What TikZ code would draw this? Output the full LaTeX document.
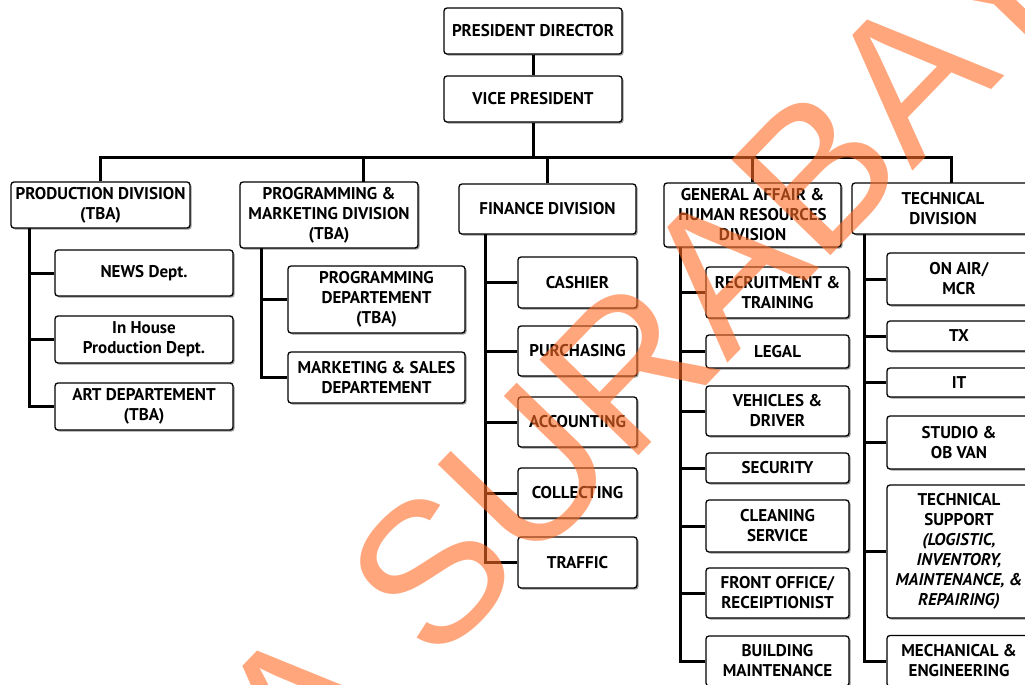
\documentclass[tikz,border=0pt]{standalone}
\usepackage{fontspec}
\setmainfont{PT Sans}
\newfontfamily\wmfont{Liberation Sans}
\usetikzlibrary{shadows}
\definecolor{wmorange}{RGB}{255,108,38}
\pgfdeclarelayer{linelayer}
\pgfdeclarelayer{wmlayer}
\pgfsetlayers{linelayer,main,wmlayer}
\begin{document}
\begin{tikzpicture}[x=1pt,y=-1pt,
  box/.style={draw=black, line width=1.3pt, rounded corners=3pt, fill=white,
    drop shadow={shadow xshift=1.6pt, shadow yshift=-1.6pt, opacity=0.4, fill=black},
    align=center, inner sep=0pt,
    font=\bfseries\fontsize{17}{20}\selectfont},
  conn/.style={draw=black, line width=3pt},
  wm/.style={text=wmorange, text opacity=0.6, inner sep=0pt,
    font=\wmfont\fontsize{200}{200}\selectfont}]
\useasboundingbox (0,0) rectangle (1025,685);

% helper coordinates
\coordinate (bar) at (533,157);
\coordinate (progin) at (363,182);
\coordinate (techin) at (951,183);
\coordinate (prodsp) at (29,228);
\coordinate (progsp) at (261,248);
\coordinate (finsp) at (485,234);
\coordinate (gasp) at (680,247);
\coordinate (techsp) at (864,234);

% nodes
\node[box, minimum width=178, minimum height=46] (pd) at (533,31) {PRESIDENT DIRECTOR};
\node[box, minimum width=178, minimum height=46] (vp) at (533,99) {VICE PRESIDENT};

\node[box, minimum width=179, minimum height=46] (prod) at (100.5,205) {PRODUCTION DIVISION\\(TBA)};
\node[box, minimum width=178, minimum height=66] (prog) at (329,215) {PROGRAMMING \&\\MARKETING DIVISION\\(TBA)};
\node[box, minimum width=177, minimum height=50] (fin) at (547.5,209) {FINANCE DIVISION};
\node[box, minimum width=177, minimum height=64] (ga) at (752.5,215) {GENERAL AFFAIR \&\\HUMAN RESOURCES\\DIVISION};
\node[box, minimum width=182, minimum height=51] (tech) at (943,208.5) {TECHNICAL\\DIVISION};

\node[box, minimum width=178, minimum height=46] (news) at (144,273) {NEWS Dept.};
\node[box, minimum width=178, minimum height=47] (inhouse) at (144,339.5) {In House\\Production Dept.};
\node[box, minimum width=178, minimum height=47] (art) at (144,406.5) {ART DEPARTEMENT\\(TBA)};

\node[box, minimum width=177, minimum height=67] (progdep) at (376.5,299.5) {PROGRAMMING\\DEPARTEMENT\\(TBA)};
\node[box, minimum width=177, minimum height=51] (mksales) at (376.5,377.5) {MARKETING \& SALES\\DEPARTEMENT};

\node[box, minimum width=119, minimum height=51] (cashier) at (577.5,282.5) {CASHIER};
\node[box, minimum width=119, minimum height=50] (purch) at (577.5,351) {PURCHASING};
\node[box, minimum width=119, minimum height=50] (acct) at (577.5,422) {ACCOUNTING};
\node[box, minimum width=119, minimum height=50] (coll) at (577.5,493) {COLLECTING};
\node[box, minimum width=119, minimum height=51] (traffic) at (577.5,562.5) {TRAFFIC};

\node[box, minimum width=143, minimum height=51] (recruit) at (777.5,292.5) {RECRUITMENT \&\\TRAINING};
\node[box, minimum width=143, minimum height=33] (legal) at (777.5,351.5) {LEGAL};
\node[box, minimum width=143, minimum height=50] (vehic) at (777.5,411) {VEHICLES \&\\DRIVER};
\node[box, minimum width=143, minimum height=30] (secur) at (777.5,468) {SECURITY};
\node[box, minimum width=143, minimum height=52] (clean) at (777.5,526) {CLEANING\\SERVICE};
\node[box, minimum width=143, minimum height=50] (front) at (777.5,593) {FRONT OFFICE/\\RECEIPTIONIST};
\node[box, minimum width=143, minimum height=50] (build) at (777.5,661) {BUILDING\\MAINTENANCE};

\node[box, minimum width=144, minimum height=52] (onair) at (959,279) {ON AIR/\\MCR};
\node[box, minimum width=144, minimum height=30] (tx) at (959,336) {TX};
\node[box, minimum width=144, minimum height=29] (it) at (959,382.5) {IT};
\node[box, minimum width=144, minimum height=53] (studio) at (959,442.5) {STUDIO \&\\OB VAN};
\node[box, minimum width=144, minimum height=133] (tsup) at (959,551.5) {TECHNICAL\\SUPPORT\\\itshape (LOGISTIC,\\\itshape INVENTORY,\\\itshape MAINTENANCE, \&\\\itshape REPAIRING)};
\node[box, minimum width=144, minimum height=51] (mech) at (959,661) {MECHANICAL \&\\ENGINEERING};

% connectors (behind boxes)
\begin{pgfonlayer}{linelayer}
\fill[white] (0,0) rectangle (1025,685);
\draw[conn] (pd.south) -- (vp.north);
\draw[conn] (vp.south) -- (bar);
\draw[conn] (prod.north) |- (bar) -| (techin);
\draw[conn] (progin) -- (progin |- bar);
\draw[conn] (fin.north) -- (fin.north |- bar);
\draw[conn] (ga.north) -- (ga.north |- bar);
% production
\draw[conn] (prodsp) |- (art.west);
\draw[conn] (prodsp |- news.west) -- (news.west);
\draw[conn] (prodsp |- inhouse.west) -- (inhouse.west);
% programming
\draw[conn] (progsp) |- (mksales.west);
\draw[conn] (progsp |- progdep.west) -- (progdep.west);
% finance
\draw[conn] (finsp) |- (traffic.west);
\foreach \n in {cashier,purch,acct,coll}
  \draw[conn] (finsp |- \n.west) -- (\n.west);
% general affair
\draw[conn] (gasp) |- (build.west);
\foreach \n in {recruit,legal,vehic,secur,clean,front}
  \draw[conn] (gasp |- \n.west) -- (\n.west);
% technical
\draw[conn] (techsp) |- (mech.west);
\foreach \n in {onair,tx,it,studio,tsup}
  \draw[conn] (techsp |- \n.west) -- (\n.west);
\end{pgfonlayer}

% watermark
\begin{pgfonlayer}{wmlayer}
\node[wm, rotate=46] (wmtext) at (687,306) {A SURABAYA};
\end{pgfonlayer}
\end{tikzpicture}
\end{document}
